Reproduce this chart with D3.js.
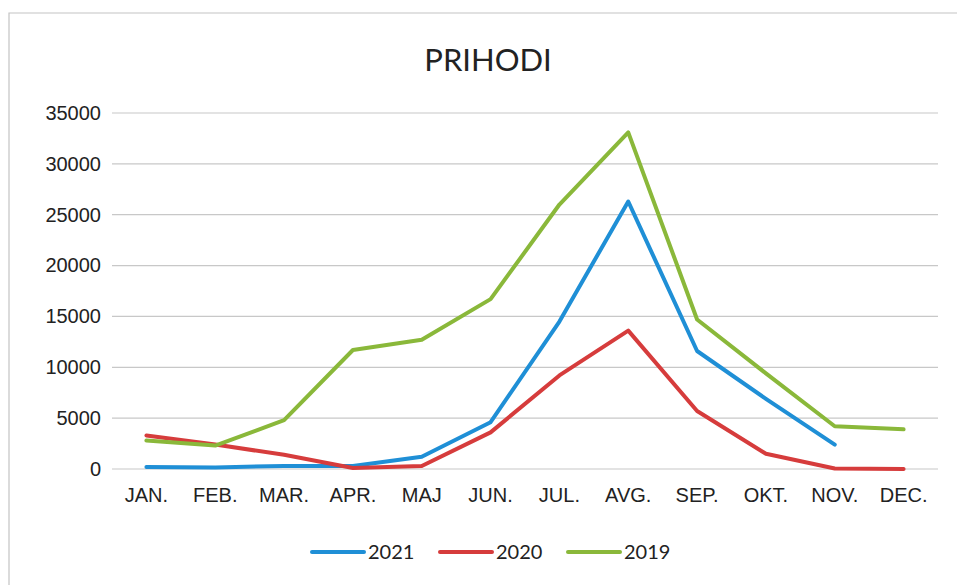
<!DOCTYPE html>
<html>
<head>
<meta charset="utf-8">
<script src="https://cdn.jsdelivr.net/npm/d3@7"></script>
<style>
  body { margin: 0; background: #fff; }
  svg { display: block; font-family: Lato, "Open Sans", sans-serif; }
</style>
</head>
<body>
<svg id="chart" width="957" height="585"></svg>
<script>
// months on the x axis
var months = ["JAN.", "FEB.", "MAR.", "APR.", "MAJ", "JUN.", "JUL.", "AVG.", "SEP.", "OKT.", "NOV.", "DEC."];
var yTicks = [0, 5000, 10000, 15000, 20000, 25000, 30000, 35000];

// series values (2021 has no December)
var values2021 = [200, 150, 300, 300, 1200, 4600, 14500, 26300, 11600, 6900, 2400, null];
var values2020 = [3300, 2400, 1400, 100, 300, 3600, 9200, 13600, 5700, 1500, 50, 0];
var values2019 = [2800, 2300, 4800, 11700, 12700, 16700, 26000, 33100, 14700, 9400, 4200, 3900];

var seriesNames = ["2021", "2020", "2019"];
var seriesColors = ["#1f8fd6", "#d63c3c", "#8ab83a"];
var seriesValues = [values2021, values2020, values2019];

var svg = d3.select("#chart");
var margin = { top: 113, right: 20, bottom: 116, left: 112 };
var width = 938 - margin.left;
var height = 469 - margin.top;

// chart frame (scanned, only left and top visible)
svg.append("path")
  .attr("d", "M9,585 L9,13 L957,13")
  .attr("fill", "none")
  .attr("stroke", "#c4c4c4")
  .attr("stroke-width", 1.2);

svg.append("text")
  .attr("x", 488)
  .attr("y", 71)
  .attr("text-anchor", "middle")
  .style("font-size", "31px")
  .style("fill", "#222")
  .text("PRIHODI");

var plot = svg.append("g")
  .attr("transform", "translate(" + margin.left + "," + margin.top + ")");

var x = d3.scaleBand().domain(months).range([0, width]);
var y = d3.scaleLinear().domain([0, 35000]).range([height, 0]);

// gridlines
plot.selectAll(".grid")
  .data(yTicks)
  .enter()
  .append("line")
  .attr("class", "grid")
  .attr("x1", 0)
  .attr("x2", width)
  .attr("y1", function (d) { return y(d); })
  .attr("y2", function (d) { return y(d); })
  .attr("stroke", "#c8c8c8")
  .attr("stroke-width", 1.2);

// y axis labels
var yAxis = plot.append("g")
  .call(d3.axisLeft(y).tickValues(yTicks).tickSize(0).tickPadding(11).tickFormat(d3.format("d")));
yAxis.select(".domain").remove();
yAxis.selectAll("text").style("font-size", "20px").style("fill", "#222").attr("font-family", null);

// x axis labels
var xAxis = plot.append("g")
  .attr("transform", "translate(0," + height + ")")
  .call(d3.axisBottom(x).tickSize(0).tickPadding(19));
xAxis.select(".domain").remove();
xAxis.selectAll("text").style("font-size", "20px").style("fill", "#222").attr("font-family", null);

var line = d3.line()
  .defined(function (d) { return d != null; })
  .x(function (d, i) { return x(months[i]) + x.bandwidth() / 2; })
  .y(function (d) { return y(d); });

plot.selectAll(".series")
  .data(seriesValues)
  .enter()
  .append("path")
  .attr("class", "series")
  .attr("d", line)
  .attr("fill", "none")
  .attr("stroke", function (d, i) { return seriesColors[i]; })
  .attr("stroke-width", 4)
  .attr("stroke-linejoin", "round")
  .attr("stroke-linecap", "round");

// legend
var legendX = [312, 440, 568];
var legend = svg.selectAll(".legend")
  .data(seriesNames)
  .enter()
  .append("g")
  .attr("class", "legend")
  .attr("transform", function (d, i) { return "translate(" + legendX[i] + ",552)"; });

legend.append("line")
  .attr("x1", 0)
  .attr("x2", 52)
  .attr("stroke", function (d, i) { return seriesColors[i]; })
  .attr("stroke-width", 4)
  .attr("stroke-linecap", "round");

legend.append("text")
  .attr("x", 56)
  .attr("dy", "0.35em")
  .style("font-size", "20px")
  .style("fill", "#222")
  .text(function (d) { return d; });
</script>
</body>
</html>
